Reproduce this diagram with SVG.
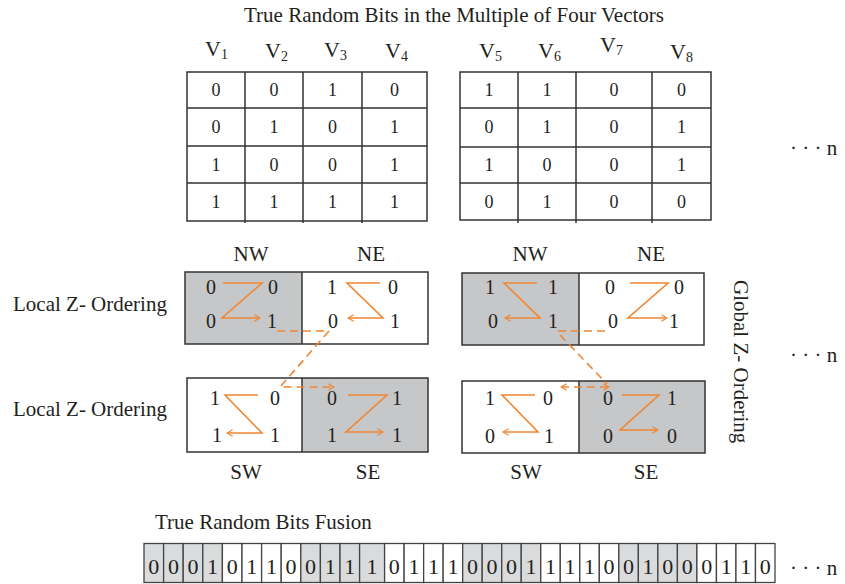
<svg xmlns="http://www.w3.org/2000/svg" width="845" height="584" viewBox="0 0 845 584">
<style>
.t{font-family:"Liberation Serif","Times New Roman",serif;fill:#231f20}
.lbl{font-size:21px}
.v{font-size:22px}
.sub{font-size:14px}
.d18{font-size:18px;text-anchor:middle}
.d20{font-size:20px;text-anchor:middle}
.d22{font-size:22px;text-anchor:middle}
.mid{text-anchor:middle}
.grid{stroke:#333;stroke-width:1.5;fill:none}
.g{fill:#c6c7c9}
.gs{fill:#dadbdc}
.w{fill:#fff}
.cell{stroke:#444;stroke-width:1.3}
.z{stroke:#EF8633;stroke-width:1.6;fill:none}
.dash{stroke:#EF8633;stroke-width:1.6;fill:none;stroke-dasharray:8 5}
</style>
<defs>
<marker id="ah" viewBox="0 0 10 10" refX="9" refY="5" markerWidth="8" markerHeight="8" orient="auto-start-reverse" markerUnits="userSpaceOnUse">
<path d="M2,1 L9,5 L2,9" fill="none" stroke="#EF8633" stroke-width="1.5"/>
</marker>
</defs>
<rect width="845" height="584" fill="#fff"/>

<g id="title">
<text class="t lbl mid" x="454" y="22">True Random Bits in the Multiple of Four Vectors</text>
</g>

<g id="vlabels" class="t">
<text class="v" x="205" y="56">V<tspan class="sub" dy="3">1</tspan></text>
<text class="v" x="265" y="58">V<tspan class="sub" dy="3">2</tspan></text>
<text class="v" x="324" y="57">V<tspan class="sub" dy="3">3</tspan></text>
<text class="v" x="385" y="58">V<tspan class="sub" dy="3">4</tspan></text>
<text class="v" x="479" y="58">V<tspan class="sub" dy="3">5</tspan></text>
<text class="v" x="538" y="58">V<tspan class="sub" dy="3">6</tspan></text>
<text class="v" x="600" y="52">V<tspan class="sub" dy="3">7</tspan></text>
<text class="v" x="670" y="59">V<tspan class="sub" dy="3">8</tspan></text>
</g>

<g id="table1">
<rect class="grid" x="187" y="72" width="240" height="149"/>
<path class="grid" d="M187,108H427M187,146H427M187,183H427M245,72V223M303,72V223M362,72V223"/>
<g class="t d18">
<text x="216" y="96">0</text><text x="274" y="96">0</text><text x="332.5" y="96">1</text><text x="394.5" y="96">0</text>
<text x="216" y="133">0</text><text x="274" y="133">1</text><text x="332.5" y="133">0</text><text x="394.5" y="133">1</text>
<text x="216" y="170.5">1</text><text x="274" y="170.5">0</text><text x="332.5" y="170.5">0</text><text x="394.5" y="170.5">1</text>
<text x="216" y="208">1</text><text x="274" y="208">1</text><text x="332.5" y="208">1</text><text x="394.5" y="208">1</text>
</g>
</g>

<g id="table2">
<rect class="grid" x="460" y="72" width="251" height="148"/>
<path class="grid" d="M460,108H711M460,147H711M460,183H711M518,72V223M576,72V223M652,72V223"/>
<g class="t d18">
<text x="489" y="96">1</text><text x="547" y="96">1</text><text x="614" y="96">0</text><text x="681.5" y="96">0</text>
<text x="489" y="133">0</text><text x="547" y="133">1</text><text x="614" y="133">0</text><text x="681.5" y="133">1</text>
<text x="489" y="170.5">1</text><text x="547" y="170.5">0</text><text x="614" y="170.5">0</text><text x="681.5" y="170.5">1</text>
<text x="489" y="208">0</text><text x="547" y="208">1</text><text x="614" y="208">0</text><text x="681.5" y="208">0</text>
</g>
</g>

<g id="dots" class="t lbl">
<text x="790" y="155">· · · n</text>
<text x="790" y="362">· · · n</text>
<text x="790" y="575">· · · n</text>
</g>

<g id="quadlabels" class="t lbl mid">
<text x="251" y="261">NW</text><text x="371" y="261">NE</text>
<text x="530" y="261">NW</text><text x="651" y="261">NE</text>
<text x="246" y="479">SW</text><text x="368" y="479">SE</text>
<text x="526" y="479">SW</text><text x="646" y="479">SE</text>
</g>

<g id="local-labels" class="t lbl">
<text x="13" y="311">Local Z- Ordering</text>
<text x="13" y="416">Local Z- Ordering</text>
</g>

<g id="global-label" class="t lbl">
<text transform="translate(734,280) rotate(90)">Global Z- Ordering</text>
</g>

<g id="block1-north">
<rect class="g" x="185" y="272" width="117" height="72"/>
<rect class="grid" x="185" y="272" width="243" height="72"/>
<path class="grid" d="M302,272V344"/>
<g class="t d20">
<text x="211" y="294">0</text><text x="273" y="294">0</text><text x="211" y="328">0</text><text x="272" y="328">1</text>
<text x="332" y="294">1</text><text x="393" y="294">0</text><text x="333" y="328">0</text><text x="395" y="328">1</text>
</g>
<path class="z" d="M223,283H262L222,318H260" marker-end="url(#ah)"/>
<path class="z" d="M380,283H347L383,318H348" marker-end="url(#ah)"/>
</g>

<g id="block1-south">
<rect class="g" x="302" y="378" width="126" height="74"/>
<rect class="grid" x="187" y="378" width="241" height="74"/>
<path class="grid" d="M302,378V452"/>
<g class="t d20">
<text x="215" y="405">1</text><text x="275" y="405">0</text><text x="217" y="442">1</text><text x="275" y="442">1</text>
<text x="332" y="405">0</text><text x="397" y="405">1</text><text x="332" y="442">1</text><text x="397" y="442">1</text>
</g>
<path class="z" d="M258,395H225L262,433H227" marker-end="url(#ah)"/>
<path class="z" d="M348,395H387L346,432H383" marker-end="url(#ah)"/>
</g>

<g id="block2-north">
<rect class="g" x="462" y="273" width="117" height="72"/>
<rect class="grid" x="462" y="273" width="242" height="72"/>
<path class="grid" d="M579,273V345"/>
<g class="t d20">
<text x="490" y="294">1</text><text x="553" y="294">1</text><text x="493" y="328">0</text><text x="553" y="328">1</text>
<text x="610" y="294">0</text><text x="679" y="294">0</text><text x="613" y="328">0</text><text x="674" y="328">1</text>
</g>
<path class="z" d="M537,283H504L540,318H505" marker-end="url(#ah)"/>
<path class="z" d="M630,283H668L628,318H667" marker-end="url(#ah)"/>
</g>

<g id="block2-south">
<rect class="g" x="579" y="381" width="126" height="72"/>
<rect class="grid" x="462" y="381" width="243" height="72"/>
<path class="grid" d="M579,381V453"/>
<g class="t d20">
<text x="490" y="405">1</text><text x="548" y="405">0</text><text x="490" y="443">0</text><text x="549" y="443">1</text>
<text x="608" y="405">0</text><text x="672" y="405">1</text><text x="608" y="443">0</text><text x="672" y="443">0</text>
</g>
<path class="z" d="M535,395H502L538,432H503" marker-end="url(#ah)"/>
<path class="z" d="M622,395H659L620,430H658" marker-end="url(#ah)"/>
</g>

<g id="connectors">
<path class="dash" d="M277,331H329L280,387H334" marker-end="url(#ah)"/>
<path class="dash" d="M558,331H607"/>
<path class="dash" d="M560,335L607,384"/>
<path class="dash" d="M561,387H609" marker-start="url(#ah)" marker-end="url(#ah)"/>
</g>

<g id="fusion-label" class="t lbl">
<text x="155" y="529">True Random Bits Fusion</text>
</g>

<g id="fusion-strip">
<g class="cell">
<rect class="gs" x="144" y="543.5" width="19.6" height="39"/>
<rect class="gs" x="163.6" y="543.5" width="19.6" height="39"/>
<rect class="gs" x="183.2" y="543.5" width="19.6" height="39"/>
<rect class="gs" x="202.8" y="543.5" width="19.6" height="39"/>
<rect class="w" x="222.4" y="543.5" width="19.6" height="39"/>
<rect class="w" x="242" y="543.5" width="19.6" height="39"/>
<rect class="w" x="261.6" y="543.5" width="19.6" height="39"/>
<rect class="w" x="281.2" y="543.5" width="19.6" height="39"/>
<rect class="gs" x="300.8" y="543.5" width="19.6" height="39"/>
<rect class="gs" x="320.4" y="543.5" width="19.6" height="39"/>
<rect class="gs" x="340" y="543.5" width="19.6" height="39"/>
<rect class="gs" x="359.6" y="543.5" width="25" height="39"/>
<rect class="w" x="384.6" y="543.5" width="19.52" height="39"/>
<rect class="w" x="404.12" y="543.5" width="19.52" height="39"/>
<rect class="w" x="423.64" y="543.5" width="19.52" height="39"/>
<rect class="w" x="443.16" y="543.5" width="19.52" height="39"/>
<rect class="gs" x="462.68" y="543.5" width="19.52" height="39"/>
<rect class="gs" x="482.2" y="543.5" width="19.52" height="39"/>
<rect class="gs" x="501.72" y="543.5" width="19.52" height="39"/>
<rect class="gs" x="521.24" y="543.5" width="19.52" height="39"/>
<rect class="w" x="540.76" y="543.5" width="19.52" height="39"/>
<rect class="w" x="560.28" y="543.5" width="19.52" height="39"/>
<rect class="w" x="579.8" y="543.5" width="19.52" height="39"/>
<rect class="w" x="599.32" y="543.5" width="19.52" height="39"/>
<rect class="gs" x="618.84" y="543.5" width="19.52" height="39"/>
<rect class="gs" x="638.36" y="543.5" width="19.52" height="39"/>
<rect class="gs" x="657.88" y="543.5" width="19.52" height="39"/>
<rect class="gs" x="677.4" y="543.5" width="19.52" height="39"/>
<rect class="w" x="696.92" y="543.5" width="19.52" height="39"/>
<rect class="w" x="716.44" y="543.5" width="19.52" height="39"/>
<rect class="w" x="735.96" y="543.5" width="19.52" height="39"/>
<rect class="w" x="755.48" y="543.5" width="19.52" height="39"/>
</g>
<g class="t d22">
<text x="153.8" y="574">0</text><text x="173.4" y="574">0</text><text x="193" y="574">0</text><text x="212.6" y="574">1</text>
<text x="232.2" y="574">0</text><text x="251.8" y="574">1</text><text x="271.4" y="574">1</text><text x="291" y="574">0</text>
<text x="310.6" y="574">0</text><text x="330.2" y="574">1</text><text x="349.8" y="574">1</text><text x="372.1" y="574">1</text>
<text x="394.36" y="574">0</text><text x="413.88" y="574">1</text><text x="433.4" y="574">1</text><text x="452.92" y="574">1</text>
<text x="472.44" y="574">0</text><text x="491.96" y="574">0</text><text x="511.48" y="574">0</text><text x="531" y="574">1</text>
<text x="550.52" y="574">1</text><text x="570.04" y="574">1</text><text x="589.56" y="574">1</text><text x="609.08" y="574">0</text>
<text x="628.6" y="574">0</text><text x="648.12" y="574">1</text><text x="667.64" y="574">0</text><text x="687.16" y="574">0</text>
<text x="706.68" y="574">0</text><text x="726.2" y="574">1</text><text x="745.72" y="574">1</text><text x="765.24" y="574">0</text>
</g>
</g>
</svg>
